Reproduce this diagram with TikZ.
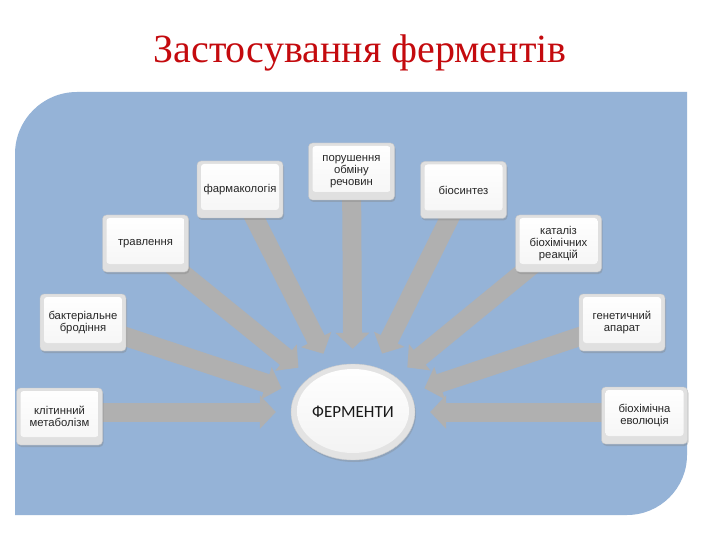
\documentclass[tikz,border=0pt]{standalone}
\usepackage{fontspec}
\setmainfont{Liberation Serif}
\newfontfamily\boxfont{Liberation Sans}
\newfontfamily\ferfont{Carlito}
\usetikzlibrary{arrows.meta,shapes.geometric,shadows}
\definecolor{panelblue}{RGB}{149,179,215}
\definecolor{titlered}{RGB}{196,10,14}
\definecolor{arrowgray}{RGB}{176,176,176}
\pgfdeclarelayer{back}
\pgfdeclarelayer{arrows}
\pgfsetlayers{back,arrows,main}
\tikzset{
  boxnode/.style={rectangle, rounded corners=4pt, minimum width=86pt, minimum height=57pt,
    inner sep=1pt, fill=gray!24, draw=gray!45, line width=0.4pt, align=center,
    font=\boxfont\fontsize{11.3}{12}\selectfont, text=black!85,
    drop shadow={opacity=0.35, shadow xshift=1pt, shadow yshift=-2pt},
    path picture={\shade[top color=white, bottom color=gray!8, rounded corners=3pt]
      ([xshift=4pt,yshift=-3pt]path picture bounding box.north west) rectangle
      ([xshift=-4pt,yshift=8pt]path picture bounding box.south east);}},
  centernode/.style={ellipse, minimum width=124pt, minimum height=96pt, inner sep=0pt,
    fill=gray!22, draw=gray!40, line width=0.4pt,
    font=\ferfont\fontsize{17}{18}\selectfont, text=black!90,
    drop shadow={opacity=0.3, shadow xshift=1pt, shadow yshift=-2pt},
    path picture={\shade[top color=white, bottom color=gray!10]
      ([yshift=1pt]path picture bounding box.center) ellipse [x radius=56pt, y radius=42pt];}},
  blockarrow/.style={line width=19pt, draw=arrowgray,
    -{Triangle[length=16pt,width=33pt]}, shorten >=15pt},
}
\begin{document}
\begin{tikzpicture}[x=1pt,y=-1pt]
\useasboundingbox (0,0) rectangle (720,540);
% background panel
\begin{pgfonlayer}{back}
\fill[white] (0,0) rectangle (720,540);
\fill[panelblue] (15,515) -- (15,154) .. controls (15,119.8) and (42.8,92) .. (77,92)
  -- (687,92) -- (687,455) .. controls (687,488.1) and (660.1,515) .. (627,515) -- cycle;
\end{pgfonlayer}
% title
\node[anchor=base, text=titlered, font=\fontsize{40}{44}\selectfont] (title) at (360,63) {Застосування ферментів};
% nodes
\node[centernode] (fer) at (353,412) {ФЕРМЕНТИ};
\node[boxnode] (b1) at (59.5,416.5) {клітинний\\метаболізм};
\node[boxnode] (b2) at (83,322.5) {бактеріальне\\бродіння};
\node[boxnode] (b3) at (145.5,243.5) {травлення};
\node[boxnode] (b4) at (240,189.5) {фармакологія};
\node[boxnode] (b5) at (351.5,171.5) {порушення\\обміну\\речовин};
\node[boxnode] (b6) at (463.5,190) {біосинтез};
\node[boxnode] (b7) at (558.5,243.5) {каталіз\\біохімічних\\реакцій};
\node[boxnode] (b8) at (622,322.5) {генетичний\\апарат};
\node[boxnode] (b9) at (644.5,415.5) {біохімічна\\еволюція};
% arrows
\begin{pgfonlayer}{arrows}
\foreach \b in {b2,b3,b4,b5,b6,b7,b8}
  \draw[blockarrow] (\b.center) -- (fer);
\draw[blockarrow] (fer.center -| b1.center) -- (fer);
\draw[blockarrow] (fer.center -| b9.center) -- (fer);
\end{pgfonlayer}
\end{tikzpicture}
\end{document}
